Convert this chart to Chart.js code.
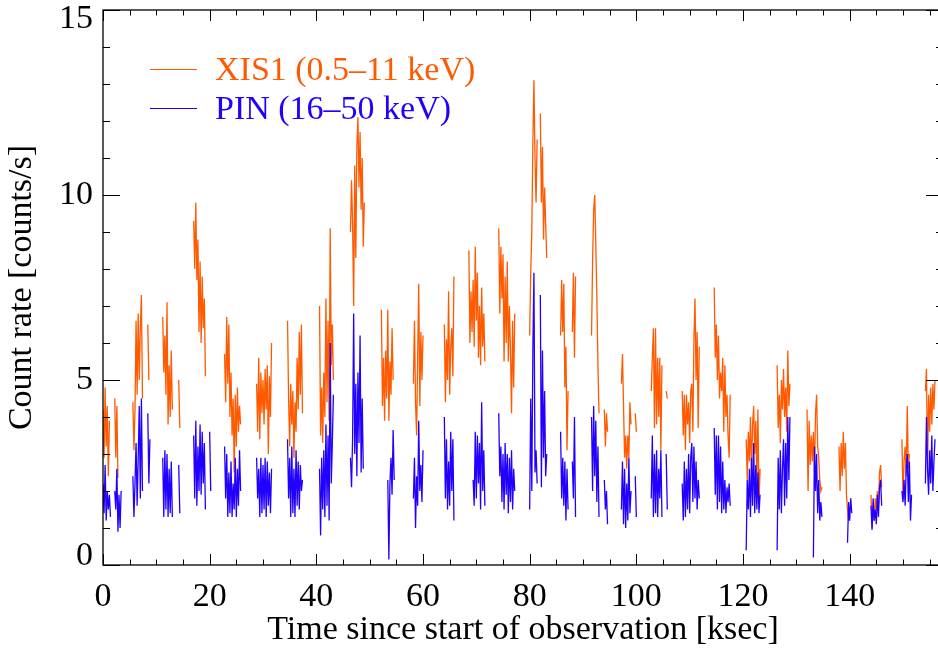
<!DOCTYPE html>
<html>
<head>
<meta charset="utf-8">
<script src="https://cdn.jsdelivr.net/npm/chart.js@4"></script>
<style>
  html, body { margin: 0; padding: 0; background: #fff; overflow: hidden; }
  #wrap { width: 944px; height: 652px; }
</style>
</head>
<body>
<div id="wrap"><canvas id="lc" width="944" height="652"></canvas></div>
<script>
// light curve: segments (one per orbit), bins of 0.2 ksec, null = gap
const binWidth = 0.2;
const segStart = [0.0, 5.6, 11.2, 17.0, 22.8, 28.8, 34.6, 40.6, 46.4, 52.2, 58.2, 64.0, 68.6, 74.2,
  80.0, 85.8, 91.6, 97.2, 102.8, 108.6, 114.6, 120.6, 126.4, 132.0, 138.0, 144.0, 149.8, 154.2];

// XIS1 (0.5-11 keV) count rate
const xis1Rate = [
  [4.2, 2.9, 4.8, 3.2, 4.3, 2.4, 3.9, null, null, null, null, 4.5, 2.9, 4.3, 2.35],
  [4.4, 3.1, 4.2, 6.6, 4.6, 6.8, 5.0, 6.4, 7.3, 4.5, null, null, null, null, 6.5, 5.0],
  [6.7, 5.2, 6.2, 4.6, 7.1, 3.8, 5.4, 4.0, 5.8, 4.2, null, null, null, null, null, 5.0, 3.7],
  [9.3, 8.0, 9.8, 7.7, 8.8, 6.3, 8.2, 6.0, 7.8, 6.4, 7.2, 5.1],
  [5.7, 4.4, 6.7, 4.9, 6.5, 4.0, 5.2, 3.5, 4.5, 2.5, 4.6, 3.2, 4.8, 3.6, 4.3, 3.8],
  [4.9, 3.6, 5.6, 3.4, 5.2, 4.1, 5.0, 3.8, 5.3, 4.2, 5.4, 3.0, 5.1, 4.0, 6.0],
  [6.6, 4.5, 3.2, 4.9, 3.8, 4.7, 2.9, 4.4, 3.6, 5.6, 4.2, 6.3, 4.6, 6.5, 4.1],
  [7.0, 3.5, 4.8, 3.3, 5.2, 4.0, 7.2, 4.4, 6.6, 3.9, 9.1, 5.4, 6.5, 5.0],
  [9.0, 10.4, 9.2, 7.0, 10.8, 8.3, 11.3, 12.1, 10.2, 11.7, 9.6, 11.0, 8.6, 9.8],
  [6.9, 4.3, 5.6, 3.9, 5.8, 4.5, 6.9, 3.9, 5.5, 4.6, 6.4, 5.0],
  [4.9, 6.6, 4.4, 3.5, 5.6, 7.6, 4.3, 6.3, 5.0, 6.2],
  [6.5, 4.4, 6.1, 5.0, 7.4, 4.6, 5.9, 6.4, 5.1, 7.8],
  [8.5, 6.0, 7.4, 6.3, 7.7, 5.9, 8.6, 6.6, 7.9, 5.6, 7.0, 5.4, 7.5, 5.9, 6.8, 5.5],
  [9.1, 6.8, 8.6, 7.2, 8.4, 5.5, 7.8, 6.0, 8.2, 5.5, 7.0, 5.8, 4.1, 6.6, 4.8, 6.8],
  [6.2, 7.9, 9.0, 11.4, 13.1, 11.0, 9.8, 11.5, null, null, 12.2, 9.8, 11.3, 8.8, 10.2, 9.2, 8.3],
  [6.2, 7.7, 6.3, 7.6, 4.8, 5.9, 3.1, 4.7, null, null, null, 6.3, 7.9, 5.6, 7.8],
  [6.2, 8.2, 9.6, 10.0, 8.7, 7.2, 5.4, 4.1, null, null, null, null, 4.2, 3.2, 4.1, 3.6],
  [4.9, 5.7, 4.3, 2.9, 3.5, 2.6, 3.5, 2.9, 4.4, 3.8, null, null, null, 4.1, 3.6],
  [4.7, 5.6, 6.4, 3.7, 6.4, 3.8, 5.6, 4.0, 5.6, 3.1, 5.4, null, null, null, 4.7, 4.5],
  [4.7, 3.5, 4.6, 3.1, 4.6, 3.8, 4.4, 3.3, 4.7, 4.9, 3.6, 6.1, 7.2, 5.0, 6.3, 3.7, 5.9],
  [7.5, 5.6, 6.5, 5.0, 6.2, 4.5, 5.2, 4.7, 5.6, 3.6, 5.4, 4.0, 4.6, 3.5, 2.9, 4.6],
  [3.4, 2.3, 3.6, 2.8, 4.0, 2.5, 3.8, 4.3, 3.0, 3.9, 2.2, 4.2, 1.6, 2.6],
  [5.4, 3.7, 4.6, 3.3, 5.0, 4.2, 5.3, 4.0, 4.8, 3.6, 5.8, 4.3, 4.9],
  [4.2, 2.0, 3.9, 2.7, 3.5, 2.8, 3.6, 2.5, 4.1, 4.6, 3.2, 2.9, 2.3, 2.0, 2.1],
  [3.2, 2.0, 3.3, 2.4, 3.6, 2.6, 3.3, 1.9, 1.5, 1.2],
  [1.9, 1.0, 1.6, 1.2, 1.8, 1.5, 2.0, 1.6, 2.5, 2.7, 2.1],
  [3.4, 1.8, 2.8, 3.2, 2.4, 4.3, 2.6, 3.0],
  [4.7, 5.3, 2.5, 4.6, 3.6, 4.8, 3.8, 4.9, 4.2, 5.0]
];

// PIN (16-50 keV) count rate
const pinRate = [
  [2.2, 1.4, 2.7, 1.2, 2.0, 1.5, 1.9, 1.3, null, null, null, 2.0, 1.5, 2.6, 0.9, 1.9, 1.0, 2.0],
  [2.4, 1.3, 2.2, 3.3, 1.6, 2.9, 4.3, 1.8, 4.5, 2.0, null, null, null, null, 4.1, 2.2, 3.4],
  [2.9, 1.3, 3.1, 1.5, 3.0, 1.3, 2.6, 1.4, 2.8, 1.3, null, null, null, null, null, 2.7, 1.4],
  [3.5, 1.8, 3.9, 1.6, 3.2, 2.0, 3.8, 1.9, 3.6, 2.2, 3.3, 1.5, null, null, null, 3.6, 2.0],
  [3.2, 1.8, 3.0, 1.3, 2.5, 1.4, 2.8, 1.3, 2.2, 1.5, 2.9, 1.3, 2.6, 1.6, 3.1, 2.0],
  [2.9, 1.8, 2.6, 1.3, 2.9, 1.4, 2.7, 1.5, 2.9, 1.3, 2.8, 1.6, 2.5, 1.4, 2.6],
  [3.4, 1.8, 2.9, 1.3, 3.2, 1.4, 2.6, 1.3, 3.1, 1.6, 2.8, 1.5, 2.7, 2.0, 2.3],
  [2.6, 0.8, 2.9, 1.5, 3.1, 1.3, 3.8, 1.6, 3.5, 1.2, 6.0, 2.2, 3.3, 4.6],
  [2.9, 2.1, 3.4, 6.8, 3.0, 4.9, 2.4, 5.2, 3.3, 6.2, 2.5, 4.5, 2.6],
  [null, null, null, null, null, null, 2.3, 0.15, 2.2, 2.9, 1.9, 3.65, 2.3],
  [1.8, 2.9, 1.0, 2.4, 1.6, 3.9, 2.0, 2.7, 1.7, 3.1],
  [4.0, 1.8, 3.4, 1.5, 2.8, 1.6, 3.6, 2.0, 3.4, 1.2],
  [null, null, null, null, 2.3, 1.6, 3.6, 1.8, 3.5, 2.2, 3.3, 1.5, 4.4, 2.0, 3.1, 1.6],
  [4.1, 2.4, 3.2, 1.7, 3.0, 1.5, 3.3, 1.9, 3.0, 1.4, 2.9, 1.7, 3.1, 1.5, 2.6, 2.0],
  [1.5, 4.5, 2.0, 5.8, 7.9, 2.5, 3.1, 2.2, null, null, 7.3, 2.1, 5.8, 2.9, 4.7, 2.4, 3.0],
  [3.6, 1.8, 2.9, 1.6, 2.8, 1.2, 2.6, 1.5, null, null, null, 2.8, 1.8, 4.0, 1.3],
  [4.0, 2.0, 4.3, 2.4, 3.9, 1.7, 3.2, 1.3, null, null, null, null, 2.3, 1.5, 2.0, 1.1],
  [1.5, 2.8, 1.1, 2.6, 1.0, 2.2, 1.2, 2.9, 1.4, 2.0, null, null, null, 2.4, 1.3],
  [1.8, 3.5, 1.3, 3.0, 1.4, 3.1, 1.3, 2.6, 1.8, 3.1, 1.3, null, null, null, 3.0, 1.5],
  [2.2, 1.2, 2.8, 1.3, 2.6, 1.5, 3.0, 1.4, 2.9, 3.3, 1.7, 3.2, 1.8, 2.8, 1.5, 2.3, 1.8],
  [3.7, 1.9, 3.5, 1.5, 3.5, 1.7, 3.2, 1.4, 2.8, 1.5, 2.3, 1.4, 2.1, 1.7, 2.2, 1.6],
  [0.4, 2.3, 1.5, 2.6, 1.3, 2.9, 1.6, 3.3, 1.4, 2.7, 1.5, 2.5, 1.4, 1.9],
  [0.4, 2.9, 1.5, 3.1, 1.4, 2.6, 3.4, 1.6, 3.3, 1.8, 4.0, 2.3, 4.0],
  [null, null, null, null, null, null, 0.2, 3.2, 2.0, 3.0, 1.4, 2.3, 1.2, 1.7, 1.3],
  [null, null, null, null, null, null, null, null, 0.6, 1.7, 1.2, 1.8, 1.4],
  [1.6, 0.95, 1.8, 1.2, 1.5, 1.1, 1.9, 1.3, 2.1, 2.3, 1.6],
  [2.0, 1.7, 2.3, 1.6, 2.6, 3.0, 1.7, 2.8, 1.2, 1.9],
  [2.2, 4.0, 2.6, 1.9, 3.1, 2.2, 3.5, 2.0, 2.8, 3.4]
];

const xTicks = [0, 20, 40, 60, 80, 100, 120, 140];
const yTicks = [0, 5, 10, 15];
const xMax = 157.5;

const FONT = '"Liberation Serif", "Times New Roman", serif';
const ORANGE = '#ff5a00';
const BLUE = '#2200ff';

// turn segments into {x,y} points, with a null between orbits so the line breaks
function toPoints(rates) {
  const pts = [];
  rates.forEach((seg, i) => {
    seg.forEach((v, j) => pts.push({ x: segStart[i] + j * binWidth, y: v }));
    pts.push({ x: segStart[i] + seg.length * binWidth, y: null });
  });
  return pts;
}

// IDL style box: frame, inward ticks on all four sides, tick labels, legend
const idlFrame = {
  id: 'idlFrame',
  afterDatasetsDraw(chart) {
    const { ctx, chartArea: a, scales: { x, y } } = chart;
    ctx.save();
    ctx.strokeStyle = '#000';
    ctx.lineWidth = 1.3;
    ctx.strokeRect(a.left, a.top, a.right - a.left, a.bottom - a.top);

    ctx.beginPath();
    for (let k = 0; k * 5 <= xMax; k++) {
      const px = Math.round(x.getPixelForValue(k * 5)) + 0.5;
      const len = k % 4 === 0 ? 11 : 5.5;
      ctx.moveTo(px, a.bottom); ctx.lineTo(px, a.bottom - len);
      ctx.moveTo(px, a.top); ctx.lineTo(px, a.top + len);
    }
    for (let k = 0; k <= 15; k++) {
      const py = Math.round(y.getPixelForValue(k)) + 0.5;
      const len = k % 5 === 0 ? 17 : 7;
      ctx.moveTo(a.left, py); ctx.lineTo(a.left + len, py);
      ctx.moveTo(a.right, py); ctx.lineTo(a.right - len, py);
    }
    ctx.lineWidth = 1;
    ctx.stroke();

    ctx.fillStyle = '#000';
    ctx.font = '34px ' + FONT;
    ctx.textAlign = 'center';
    ctx.textBaseline = 'middle';
    x.ticks.forEach(t => ctx.fillText(String(t.value), x.getPixelForValue(t.value), a.bottom + 32));
    ctx.textAlign = 'right';
    y.ticks.forEach(t => {
      let py = y.getPixelForValue(t.value);
      py = Math.min(Math.max(py, a.top + 9.5), a.bottom - 9);
      ctx.fillText(String(t.value), a.left - 10, py);
    });

    // legend
    const legendRows = [[0, 69], [1, 108]];
    ctx.textAlign = 'left';
    legendRows.forEach(([i, ly]) => {
      const ds = chart.data.datasets[i];
      ctx.strokeStyle = ds.borderColor;
      ctx.beginPath();
      ctx.moveTo(150, ly + 0.5); ctx.lineTo(197, ly + 0.5);
      ctx.stroke();
      ctx.fillStyle = ds.borderColor;
      ctx.fillText(ds.label, 215, ly + 2.5);
    });
    ctx.restore();
  }
};

new Chart(document.getElementById('lc'), {
  type: 'line',
  data: {
    datasets: [
      {
        label: 'XIS1 (0.5\u201311 keV)',
        data: toPoints(xis1Rate),
        borderColor: ORANGE,
        borderWidth: 1.3,
        pointRadius: 0,
        spanGaps: false,
        order: 2
      },
      {
        label: 'PIN (16\u201350 keV)',
        data: toPoints(pinRate),
        borderColor: BLUE,
        borderWidth: 1.3,
        pointRadius: 0,
        spanGaps: false,
        order: 1
      }
    ]
  },
  plugins: [idlFrame],
  options: {
    responsive: false,
    devicePixelRatio: 1,
    animation: false,
    layout: { padding: { top: 10, right: 1, left: 0, bottom: 0 } },
    plugins: { legend: { display: false }, tooltip: { enabled: false } },
    scales: {
      x: {
        type: 'linear',
        min: 0,
        max: xMax,
        grid: { display: false },
        border: { display: false },
        ticks: { display: false },
        afterBuildTicks: s => { s.ticks = xTicks.map(v => ({ value: v })); },
        afterFit: s => { s.height = 87; },
        title: {
          display: true,
          text: 'Time since start of observation [ksec]',
          color: '#000',
          font: { family: FONT, size: 34 },
          padding: { top: 0, bottom: 2 }
        }
      },
      y: {
        min: 0,
        max: 15,
        grid: { display: false },
        border: { display: false },
        ticks: { display: false },
        afterBuildTicks: s => { s.ticks = yTicks.map(v => ({ value: v })); },
        afterFit: s => { s.width = 103; },
        title: {
          display: true,
          text: 'Count rate [counts/s]',
          color: '#000',
          font: { family: FONT, size: 34 },
          padding: { top: 2, bottom: 0 }
        }
      }
    }
  }
});
</script>
</body>
</html>
